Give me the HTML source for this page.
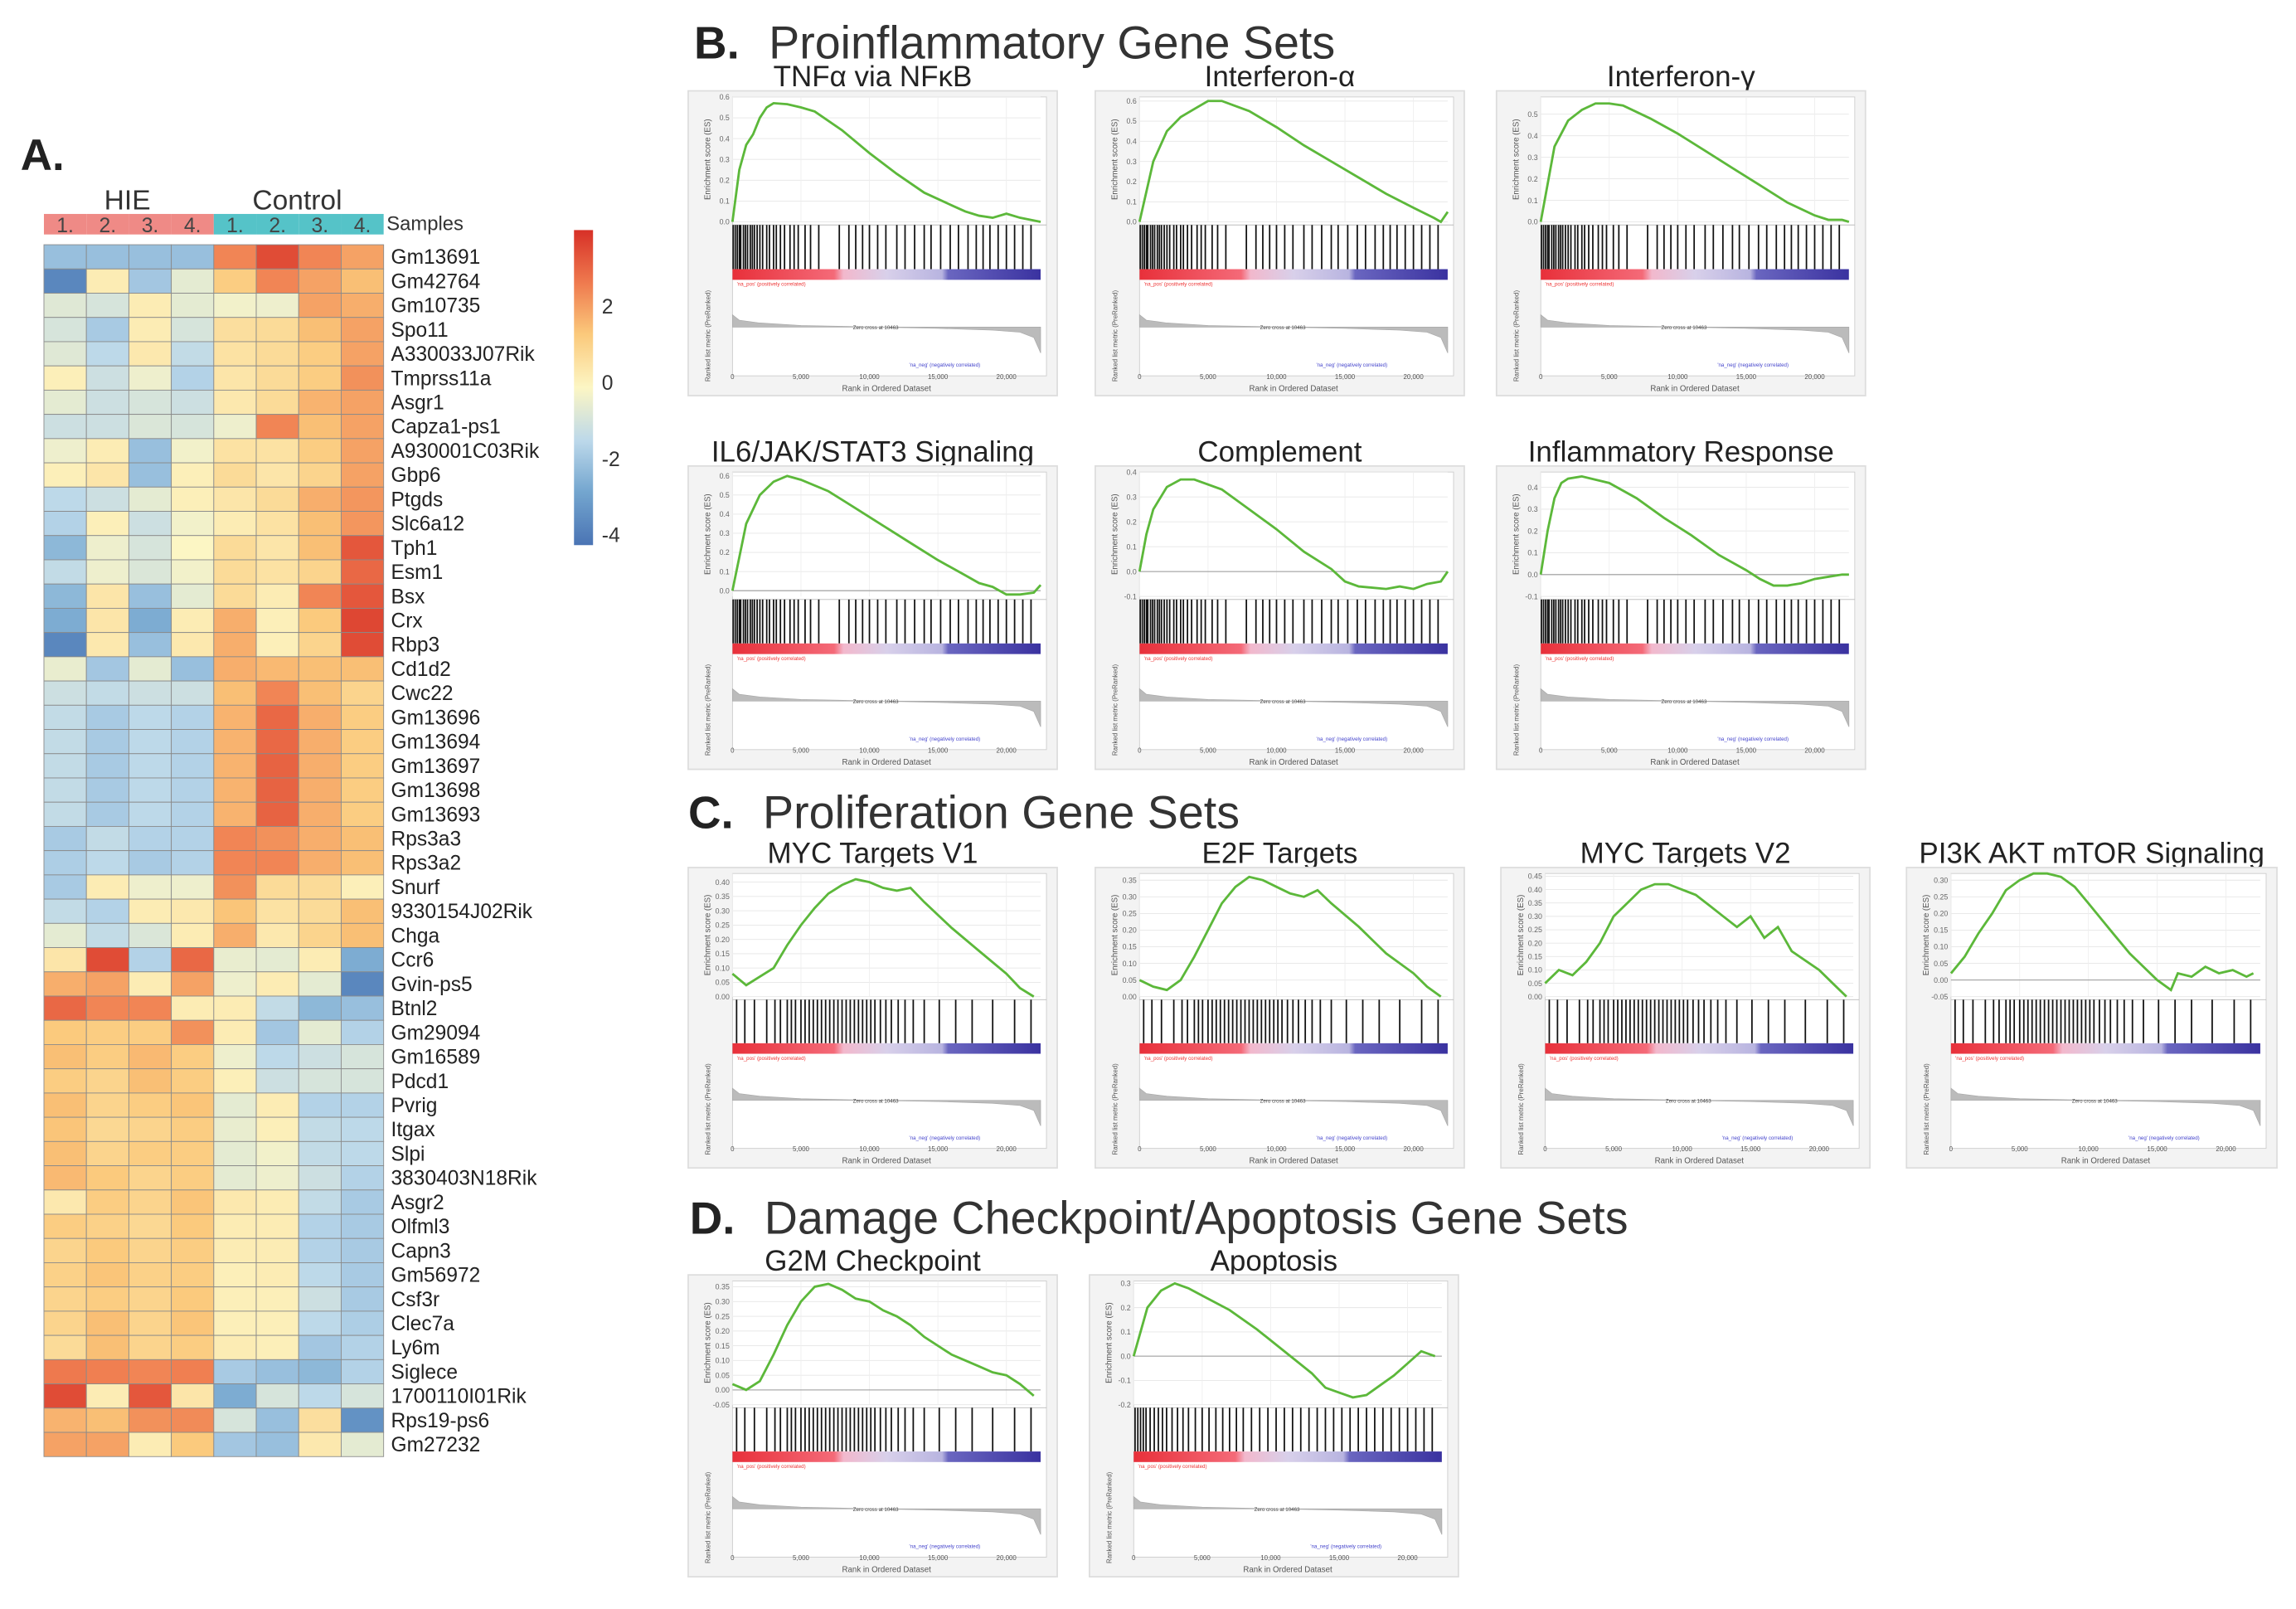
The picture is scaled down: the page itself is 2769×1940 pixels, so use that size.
<!DOCTYPE html>
<html><head><meta charset="utf-8"><style>
html,body{margin:0;padding:0;background:#fff}
svg{display:block}
text{font-family:"Liberation Sans",sans-serif}
</style></head><body>
<svg id="fig" xmlns="http://www.w3.org/2000/svg" width="2769" height="1940" viewBox="0 0 1568 1098" preserveAspectRatio="none">
<defs>
<linearGradient id="cbar" x1="0" y1="1" x2="0" y2="0">
<stop offset="0" stop-color="#4a74b4"/><stop offset="0.17" stop-color="#74a6cf"/><stop offset="0.33" stop-color="#bcd8ea"/><stop offset="0.5" stop-color="#fcf6c4"/><stop offset="0.67" stop-color="#fbc97b"/><stop offset="0.83" stop-color="#ef7b4f"/><stop offset="1" stop-color="#d73027"/>
</linearGradient>
<linearGradient id="rankbar" x1="0" y1="0" x2="1" y2="0">
<stop offset="0" stop-color="#e8303a"/><stop offset="0.33" stop-color="#f46a78"/><stop offset="0.36" stop-color="#f2b8cc"/><stop offset="0.5" stop-color="#d8d0ea"/><stop offset="0.68" stop-color="#b8b4e0"/><stop offset="0.7" stop-color="#6a66c0"/><stop offset="1" stop-color="#3a32a0"/>
</linearGradient>
</defs>
<g id="heat"></g>
<g id="gsea"></g>
</svg>
<script>
const genes=["Gm13691","Gm42764","Gm10735","Spo11","A330033J07Rik","Tmprss11a","Asgr1","Capza1-ps1","A930001C03Rik","Gbp6","Ptgds","Slc6a12","Tph1","Esm1","Bsx","Crx","Rbp3","Cd1d2","Cwc22","Gm13696","Gm13694","Gm13697","Gm13698","Gm13693","Rps3a3","Rps3a2","Snurf","9330154J02Rik","Chga","Ccr6","Gvin-ps5","Btnl2","Gm29094","Gm16589","Pdcd1","Pvrig","Itgax","Slpi","3830403N18Rik","Asgr2","Olfml3","Capn3","Gm56972","Csf3r","Clec7a","Ly6m","Siglece","1700110I01Rik","Rps19-ps6","Gm27232"];
const samples=["1.","2.","3.","4.","1.","2.","3.","4."];
const groups=["HIE","HIE","HIE","HIE","Control","Control","Control","Control"];
const values=[
[-2,-2,-2,-2,2.5,3.5,2.5,2],[-3.5,0.3,-1.8,-0.5,1.2,2.5,2,1.5],[-0.6,-0.8,0.3,-0.5,-0.2,-0.3,2,1.8],[-0.8,-1.7,0.3,-0.8,0.7,0.8,1.5,2],[-0.6,-1.3,0.4,-1.2,0.6,0.8,1.2,2],
[0.2,-1,-0.3,-1.5,0.5,0.8,1.2,2.3],[-0.5,-1,-0.8,-1,0.4,0.8,1.7,2],[-1,-1,-0.7,-0.8,-0.3,2.5,1.5,2],[-0.3,0.3,-2,-0.2,0.6,0.6,1.2,2],[0.2,0.5,-2,0.2,0.8,0.5,1,2],
[-1.3,-1,-0.5,0.2,0.5,0.8,1.8,2.2],[-1.5,0.2,-1,-0.2,0.3,0.6,1.5,2.2],[-2.2,-0.3,-0.8,0,0.8,0.5,1.5,3.3],[-1.2,-0.3,-0.7,-0.2,0.8,0.6,1,3],[-2.2,0.5,-2,-0.5,0.8,0.3,2.5,3.3],
[-2.5,0.5,-2.5,0.3,1.8,0.2,1.3,3.6],[-3.5,0.4,-2,0.4,1.8,0.2,1,3.5],[-0.4,-1.8,-0.5,-2,1.8,1.6,1.5,1.5],[-1,-1.2,-1,-1,1.5,2.5,1.5,1],[-1.2,-1.7,-1.3,-1.5,1.7,3,1.8,1.2],
[-1.2,-1.7,-1.3,-1.5,1.7,3,1.8,1.2],[-1.2,-1.7,-1.3,-1.5,1.7,3.1,1.8,1.2],[-1.2,-1.7,-1.3,-1.5,1.7,3.1,1.8,1.2],[-1.2,-1.7,-1.3,-1.5,1.7,3.1,1.8,1.2],[-1.7,-1.2,-1.5,-1.5,2.5,2.3,1.8,1.5],
[-1.6,-1.3,-1.7,-1.5,2.5,2.5,1.8,1.5],[-1.7,0.3,-0.3,-0.3,2.3,0.8,0.8,0.2],[-1.2,-1.5,0.3,0.4,1.4,0.6,0.8,1.5],[-0.5,-1.2,-0.7,0.3,1.8,0.4,1,1.5],[0.5,3.5,-1.5,3,-0.4,-0.5,0.3,-2.5],
[1.8,2,0.3,2,-0.3,0.3,-0.5,-3.5],[3,2.5,2.5,0.3,0.3,-1.2,-2.2,-2],[1.3,1.2,1.2,2.3,0.3,-1.8,-0.5,-1.5],[1.5,1.2,1.6,1.2,-0.3,-1.3,-1,-0.8],[1.2,1,1.5,1.2,0.2,-1,-0.8,-0.8],
[1.5,1,1.2,1.4,-0.5,0.3,-1.5,-1.5],[1.4,0.9,1,1.2,-0.4,0.2,-1.2,-1.3],[1.5,1,1.2,1.2,-0.5,-0.2,-1.2,-1.3],[1.6,1.3,1,1.2,-0.5,-0.3,-1,-1.5],[0.4,1.2,1,1.4,0.4,0.3,-1.2,-1.7],
[1.2,1.1,0.9,1.3,0.3,0.3,-1.5,-1.7],[1,1.3,1,1.2,0.3,0.3,-1.5,-1.7],[1.1,1.4,1.1,1.2,0.2,0.3,-1.3,-1.7],[1,1.2,1,1.3,0.2,0.2,-1,-1.7],[1,1.5,1,1.4,0.2,0.2,-1.3,-1.6],
[0.8,1.5,1,1.2,0.3,0.2,-1.8,-1.5],[2.7,2.6,2.5,2.6,-1.7,-2,-2.2,-1.5],[3.5,0.3,3.3,0.5,-2.5,-0.8,-1.3,-0.8],[1.7,1.5,2.3,2.4,-0.8,-2,0.7,-3.2],[2,2,0.3,1.3,-1.8,-2,0.4,-0.5]];
const cbarTicks=[2,0,-2,-4];

const esTNF=[[0,0],[0.5,0.25],[1,0.37],[1.5,0.42],[2,0.5],[2.5,0.55],[3,0.57],[4,0.565],[5,0.55],[6,0.53],[8,0.44],[10,0.33],[12,0.23],[14,0.14],[16,0.08],[17,0.05],[18,0.03],[19,0.02],[20,0.04],[21,0.02],[22.5,0]];
const esIFNa=[[0,0],[1,0.3],[2,0.45],[3,0.52],[4,0.56],[5,0.6],[6,0.6],[8,0.55],[10,0.47],[12,0.38],[14,0.3],[16,0.22],[18,0.14],[20,0.07],[21.5,0.02],[22,0],[22.5,0.05]];
const esIFNg=[[0,0],[1,0.35],[2,0.47],[3,0.52],[4,0.55],[5,0.55],[6,0.54],[8,0.48],[10,0.41],[12,0.33],[14,0.25],[16,0.17],[18,0.09],[20,0.03],[21,0.01],[22,0.01],[22.5,0]];
const esIL6=[[0,0],[1,0.35],[2,0.5],[3,0.57],[4,0.6],[5,0.58],[7,0.52],[9,0.43],[11,0.34],[13,0.25],[15,0.16],[17,0.08],[18,0.04],[19,0.02],[20,-0.02],[21,-0.02],[22,-0.01],[22.5,0.03]];
const esComp=[[0,0],[0.5,0.15],[1,0.25],[2,0.34],[3,0.37],[4,0.37],[6,0.33],[8,0.25],[10,0.17],[12,0.08],[14,0.01],[15,-0.04],[16,-0.06],[18,-0.07],[19,-0.06],[20,-0.07],[21,-0.05],[22,-0.04],[22.5,0]];
const esInfl=[[0,0],[0.5,0.2],[1,0.35],[1.5,0.42],[2,0.44],[3,0.45],[5,0.42],[7,0.35],[9,0.26],[11,0.18],[13,0.09],[15,0.02],[16,-0.02],[17,-0.05],[18,-0.05],[19,-0.04],[20,-0.02],[21,-0.01],[22,0],[22.5,0]];
const esMYC1=[[0,0.08],[1,0.04],[2,0.07],[3,0.1],[4,0.18],[5,0.25],[6,0.31],[7,0.36],[8,0.39],[9,0.41],[10,0.4],[11,0.38],[12,0.37],[13,0.38],[14,0.33],[16,0.24],[18,0.16],[20,0.08],[21,0.03],[22,0]];
const esE2F=[[0,0.05],[1,0.03],[2,0.02],[3,0.05],[4,0.12],[5,0.2],[6,0.28],[7,0.33],[8,0.36],[9,0.35],[10,0.33],[11,0.31],[12,0.3],[13,0.32],[14,0.28],[16,0.21],[18,0.13],[20,0.07],[21,0.03],[22,0]];
const esMYC2=[[0,0.05],[1,0.1],[2,0.08],[3,0.13],[4,0.2],[5,0.3],[6,0.35],[7,0.4],[8,0.42],[9,0.42],[10,0.4],[11,0.38],[12,0.34],[13,0.3],[14,0.26],[15,0.3],[16,0.22],[17,0.26],[18,0.17],[20,0.1],[21,0.05],[22,0]];
const esPI3K=[[0,0.02],[1,0.07],[2,0.14],[3,0.2],[4,0.27],[5,0.3],[6,0.32],[7,0.32],[8,0.31],[9,0.28],[10,0.23],[11,0.18],[12,0.13],[13,0.08],[14,0.04],[15,0],[16,-0.03],[16.5,0.02],[17.5,0.01],[18.5,0.04],[19.5,0.02],[20.5,0.03],[21.5,0.01],[22,0.02]];
const esG2M=[[0,0.02],[1,0],[2,0.03],[3,0.12],[4,0.22],[5,0.3],[6,0.35],[7,0.36],[8,0.34],[9,0.31],[10,0.3],[11,0.27],[12,0.25],[13,0.22],[14,0.18],[16,0.12],[17,0.1],[18,0.08],[19,0.06],[20,0.05],[21,0.02],[22,-0.02]];
const esApop=[[0,0],[1,0.2],[2,0.27],[3,0.3],[4,0.28],[5,0.25],[7,0.19],[9,0.11],[11,0.02],[13,-0.07],[14,-0.13],[15,-0.15],[16,-0.17],[17,-0.16],[18,-0.12],[19,-0.08],[20,-0.03],[21,0.02],[22,0]];
const hitsEarly=[0.05,0.2,0.35,0.5,0.6,0.8,0.95,1.1,1.3,1.45,1.6,1.8,2,2.2,2.5,2.7,3,3.2,3.5,3.8,4.2,4.5,4.8,5.3,5.7,6.3,7.8,8.5,9,9.5,10,10.6,11.2,12,12.6,13.3,14,14.5,15.2,15.9,16.5,17.2,17.8,18.3,18.8,19.4,20,20.6,21.2,21.8];
const hitsMid=[0.3,0.9,1.6,2.5,3.1,3.5,4,4.3,4.6,5,5.3,5.6,5.9,6.2,6.5,6.8,7.1,7.4,7.7,8,8.3,8.6,8.9,9.2,9.5,9.8,10.1,10.4,10.8,11.2,11.6,12.1,12.6,13.2,14,15.1,16.3,17.5,19,20.6,21.8];
const hitsApop=[0.1,0.3,0.5,0.7,0.9,1.2,1.5,1.8,2.1,2.4,2.8,3.2,3.6,4,4.5,5,5.5,6,6.5,7,7.5,8,8.6,9.2,9.8,10.4,11,11.6,12.2,12.8,13.4,14,14.6,15.2,15.8,16.4,17,17.6,18.2,18.8,19.4,20,20.6,21.2,21.8];
const xTicks=[0,5,10,15,20];
const xTickLabels=["0","5,000","10,000","15,000","20,000"];
const metricRank=[0,0.5,2,5,10.46,15,19,21,22,22.5];
const metricVal=[0.9,0.5,0.3,0.12,0,-0.15,-0.35,-0.6,-1.2,-3];

const NS="http://www.w3.org/2000/svg";
function mk(tag,attrs,parent,txt){const e=document.createElementNS(NS,tag);for(const k in attrs)e.setAttribute(k,attrs[k]);if(txt!==undefined)e.textContent=txt;parent.appendChild(e);return e;}
function lerp(a,b,t){return a+(b-a)*t;}
function hex(c){return [parseInt(c.slice(1,3),16),parseInt(c.slice(3,5),16),parseInt(c.slice(5,7),16)];}
const stops=[[-4,"#4a74b4"],[-2.67,"#74a6cf"],[-1.33,"#bcd8ea"],[0,"#fcf6c4"],[1.33,"#fbc97b"],[2.67,"#ef7b4f"],[4,"#d73027"]];
function color(v){v=Math.max(-4,Math.min(4,v));for(let i=0;i<stops.length-1;i++){if(v<=stops[i+1][0]){const t=(v-stops[i][0])/(stops[i+1][0]-stops[i][0]);const a=hex(stops[i][1]),b=hex(stops[i+1][1]);return `rgb(${Math.round(lerp(a[0],b[0],t))},${Math.round(lerp(a[1],b[1],t))},${Math.round(lerp(a[2],b[2],t))})`;}}return stops[stops.length-1][1];}

const H=document.getElementById('heat');
const hx0=30,colW=29,hy0=167,rowH=16.54;
let t;
t=mk('text',{x:14,y:116,'font-size':30,'font-weight':'bold',fill:'#222'},H,'A.');

t=mk('text',{x:87,y:143,'font-size':19,'text-anchor':'middle',fill:'#333'},H,'HIE');

t=mk('text',{x:203,y:143,'font-size':19,'text-anchor':'middle',fill:'#333'},H,'Control');

samples.forEach((s,i)=>{
  const r=mk('rect',{x:hx0+i*colW,y:146,width:colW,height:14,fill:groups[i]==='HIE'?'#ef8a86':'#55c3c8'},H);
  
  const tt=mk('text',{x:hx0+i*colW+colW/2,y:158.5,'font-size':14,'text-anchor':'middle',fill:'#444'},H,s);
  
});
t=mk('text',{x:264,y:157,'font-size':13.5,fill:'#333'},H,'Samples');

values.forEach((row,r)=>{
  row.forEach((v,c)=>{
    const cell=mk('rect',{x:hx0+c*colW,y:hy0+r*rowH,width:colW,height:rowH,fill:color(v),stroke:'#8a8a8a','stroke-width':0.5},H);
    
  });
  const lb=mk('text',{x:267,y:hy0+r*rowH+rowH/2+4.8,'font-size':13.9,fill:'#222'},H,genes[r]);
  
});
const cb=mk('rect',{x:392,y:157,width:13,height:215,fill:'url(#cbar)'},H);

cbarTicks.forEach(v=>{
  const tt=mk('text',{x:411,y:261-26*v+5,'font-size':14,fill:'#333'},H,String(v));
  
});

const G=document.getElementById('gsea');
function section(x,y,letter,title,name){
  const g=mk('g',{},G);
  mk('text',{x:x,y:y,'font-size':31,'font-weight':'bold',fill:'#222'},g,letter);
  mk('text',{x:x+51,y:y,'font-size':31.5,fill:'#333'},g,title);
}
section(474,40,'B.','Proinflammatory Gene Sets','section-b-title');
section(470,565,'C.','Proliferation Gene Sets','section-c-title');
section(471,842,'D.','Damage Checkpoint/Apoptosis Gene Sets','section-d-title');

const panels=[
 {x:470,y:62,w:252,h:208,title:'TNFα via NFκB',ymin:0,ymax:0.6,ticks:[0,0.1,0.2,0.3,0.4,0.5,0.6],dec:1,es:esTNF,hits:hitsEarly,name:'tnfa-panel'},
 {x:748,y:62,w:252,h:208,title:'Interferon-α',ymin:0,ymax:0.62,ticks:[0,0.1,0.2,0.3,0.4,0.5,0.6],dec:1,es:esIFNa,hits:hitsEarly,name:'interferon-alpha-panel'},
 {x:1022,y:62,w:252,h:208,title:'Interferon-γ',ymin:0,ymax:0.58,ticks:[0,0.1,0.2,0.3,0.4,0.5],dec:1,es:esIFNg,hits:hitsEarly,name:'interferon-gamma-panel'},
 {x:470,y:318,w:252,h:207,title:'IL6/JAK/STAT3 Signaling',ymin:-0.03,ymax:0.62,ticks:[0,0.1,0.2,0.3,0.4,0.5,0.6],dec:1,es:esIL6,hits:hitsEarly,name:'il6-jak-stat3-panel'},
 {x:748,y:318,w:252,h:207,title:'Complement',ymin:-0.1,ymax:0.4,ticks:[-0.1,0,0.1,0.2,0.3,0.4],dec:1,es:esComp,hits:hitsEarly,name:'complement-panel'},
 {x:1022,y:318,w:252,h:207,title:'Inflammatory Response',ymin:-0.1,ymax:0.47,ticks:[-0.1,0,0.1,0.2,0.3,0.4],dec:1,es:esInfl,hits:hitsEarly,name:'inflammatory-response-panel'},
 {x:470,y:592,w:252,h:205,title:'MYC Targets V1',ymin:0,ymax:0.43,ticks:[0,0.05,0.1,0.15,0.2,0.25,0.3,0.35,0.4],dec:2,es:esMYC1,hits:hitsMid,name:'myc-targets-v1-panel'},
 {x:748,y:592,w:252,h:205,title:'E2F Targets',ymin:0,ymax:0.37,ticks:[0,0.05,0.1,0.15,0.2,0.25,0.3,0.35],dec:2,es:esE2F,hits:hitsMid,name:'e2f-targets-panel'},
 {x:1025,y:592,w:252,h:205,title:'MYC Targets V2',ymin:0,ymax:0.46,ticks:[0,0.05,0.1,0.15,0.2,0.25,0.3,0.35,0.4,0.45],dec:2,es:esMYC2,hits:hitsMid,name:'myc-targets-v2-panel'},
 {x:1302,y:592,w:253,h:205,title:'PI3K AKT mTOR Signaling',ymin:-0.05,ymax:0.32,ticks:[-0.05,0,0.05,0.1,0.15,0.2,0.25,0.3],dec:2,es:esPI3K,hits:hitsMid,name:'pi3k-akt-mtor-panel'},
 {x:470,y:870,w:252,h:206,title:'G2M Checkpoint',ymin:-0.05,ymax:0.37,ticks:[-0.05,0,0.05,0.1,0.15,0.2,0.25,0.3,0.35],dec:2,es:esG2M,hits:hitsMid,name:'g2m-checkpoint-panel'},
 {x:744,y:870,w:252,h:206,title:'Apoptosis',ymin:-0.2,ymax:0.31,ticks:[-0.2,-0.1,0,0.1,0.2,0.3],dec:1,es:esApop,hits:hitsApop,name:'apoptosis-panel'}
];
panels.forEach(p=>{
  const g=mk('g',{},G);
  const tt=mk('text',{x:p.x+p.w/2,y:p.y-3,'font-size':19.8,'text-anchor':'middle',fill:'#222'},g,p.title);
  
  mk('rect',{x:p.x,y:p.y,width:p.w,height:p.h,fill:'#f3f3f3',stroke:'#ddd','stroke-width':1},g);
  const L=p.x+0.12*p.w,R=p.x+0.955*p.w;
  const esT=p.y+0.02*p.h,esB=p.y+0.43*p.h;
  mk('rect',{x:L,y:esT,width:R-L+4,height:p.h*0.915,fill:'#fff',stroke:'#ccc','stroke-width':0.5},g);
  const xs=r=>L+(r/22.5)*(R-L);
  const ys=v=>esB-(v-p.ymin)/(p.ymax-p.ymin)*(esB-esT);
  p.ticks.forEach(v=>{
    mk('line',{x1:L,x2:R,y1:ys(v),y2:ys(v),stroke:'#e6e6e6','stroke-width':0.5},g);
    mk('text',{x:L-2,y:ys(v)+1.8,'font-size':5,'text-anchor':'end',fill:'#666'},g,v.toFixed(p.dec));
  });
  xTicks.forEach(r=>mk('line',{x1:xs(r),x2:xs(r),y1:esT,y2:esB,stroke:'#eee','stroke-width':0.5},g));
  if(p.ymin<0) mk('line',{x1:L,x2:R,y1:ys(0),y2:ys(0),stroke:'#999','stroke-width':0.6},g);
  mk('text',{transform:`translate(${p.x+0.06*p.w},${(esT+esB)/2}) rotate(-90)`,'font-size':5.5,'text-anchor':'middle',fill:'#555'},g,'Enrichment score (ES)');
  const d=p.es.map((pt,i)=>(i?'L':'M')+xs(pt[0]).toFixed(1)+','+ys(pt[1]).toFixed(1)).join(' ');
  const line=mk('path',{d:d,fill:'none',stroke:'#5cb83a','stroke-width':1.6},g);
  
  const hT=p.y+0.44*p.h,hB=p.y+0.585*p.h;
  mk('line',{x1:L,x2:R+4,y1:hT,y2:hT,stroke:'#bbb','stroke-width':0.5},g);
  p.hits.forEach(r=>{
    const h=mk('line',{x1:xs(r),x2:xs(r),y1:hT,y2:hB,stroke:'#111','stroke-width':1},g);
    
  });
  mk('rect',{x:L,y:hB,width:R-L,height:0.035*p.h,fill:'url(#rankbar)'},g);
  mk('text',{x:L+3,y:hB+0.055*p.h,'font-size':3.5,fill:'#e33'},g,"'na_pos' (positively correlated)");
  const mT=p.y+0.7*p.h,mZ=p.y+0.775*p.h,mB=p.y+0.86*p.h;
  const my=v=>v>=0?mZ-v*(mZ-mT)*0.6:mZ-Math.max(v,-3)/3*(mB-mZ);
  let md='M'+xs(0)+','+mZ;
  metricRank.forEach((r,i)=>{md+=' L'+xs(r).toFixed(1)+','+my(metricVal[i]).toFixed(1);});
  md+=' L'+xs(22.5)+','+mZ+' Z';
  const ma=mk('path',{d:md,fill:'#bbb',stroke:'#aaa','stroke-width':0.4},g);
  
  mk('text',{x:xs(10.46),y:mZ+1.5,'font-size':3.5,'text-anchor':'middle',fill:'#444'},g,'Zero cross at 10463');
  mk('text',{x:xs(15.5),y:p.y+0.905*p.h,'font-size':3.5,'text-anchor':'middle',fill:'#44c'},g,"'na_neg' (negatively correlated)");
  mk('text',{transform:`translate(${p.x+0.06*p.w},${(mT+mB)/2+5}) rotate(-90)`,'font-size':4.5,'text-anchor':'middle',fill:'#555'},g,'Ranked list metric (PreRanked)');
  xTicks.forEach((r,i)=>mk('text',{x:xs(r),y:p.y+0.945*p.h,'font-size':4.5,'text-anchor':'middle',fill:'#555'},g,xTickLabels[i]));
  mk('text',{x:(L+R)/2,y:p.y+0.985*p.h,'font-size':5.5,'text-anchor':'middle',fill:'#555'},g,'Rank in Ordered Dataset');
});
</script>
</body></html>
